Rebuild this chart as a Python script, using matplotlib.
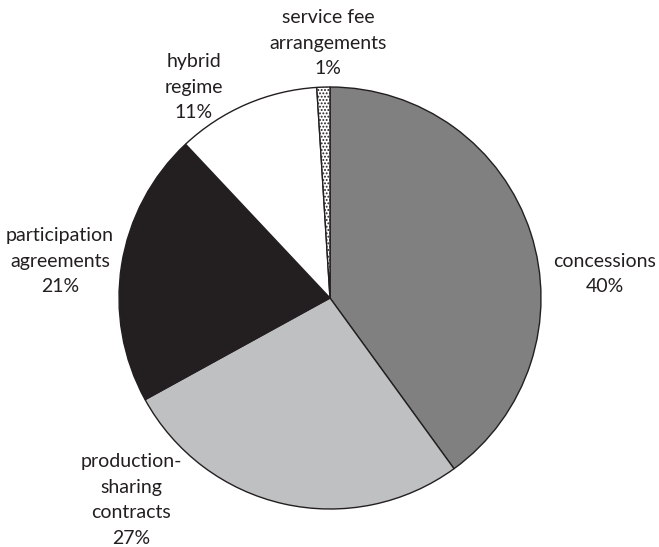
import matplotlib
matplotlib.use('Agg')
import matplotlib.pyplot as plt

W, H = 659, 547

categories = ['concessions', 'production-\nsharing\ncontracts', 'participation\nagreements',
              'hybrid\nregime', 'service fee\narrangements']
shares     = [40, 27, 21, 11, 1]
colors     = ['#808080', '#bfc0c2', '#231f20', '#ffffff', '#ffffff']
hatches    = [None, None, None, None, '.....']

# label block centres in pixel space (x, y from top)
label_pos  = [(605, 274), (131, 500), (60, 261), (194, 87), (328, 43)]

plt.rcParams['font.family'] = ['Lato', 'DejaVu Sans']
plt.rcParams['hatch.linewidth'] = 0.9
plt.rcParams['hatch.color'] = '#231f20'

fig = plt.figure(figsize=(W / 100, H / 100), dpi=100)
ax = fig.add_axes([0, 0, 1, 1])

wedges, _ = ax.pie(shares, colors=colors, startangle=90, counterclock=False,
                   center=(330, H - 298), radius=211, frame=True,
                   wedgeprops=dict(edgecolor='#231f20', linewidth=1.0))
for w, h in zip(wedges, hatches):
    if h:
        w.set_hatch(h)
ax.set_xlim(0, W)
ax.set_ylim(0, H)
ax.set_aspect('equal')
ax.axis('off')

for cat, val, (x, y) in zip(categories, shares, label_pos):
    ax.text(x, H - y, f'{cat}\n{val}%', ha='center', va='center',
            fontsize=14, color='#231f20', linespacing=1.6)

plt.savefig('out.png', dpi=100)
